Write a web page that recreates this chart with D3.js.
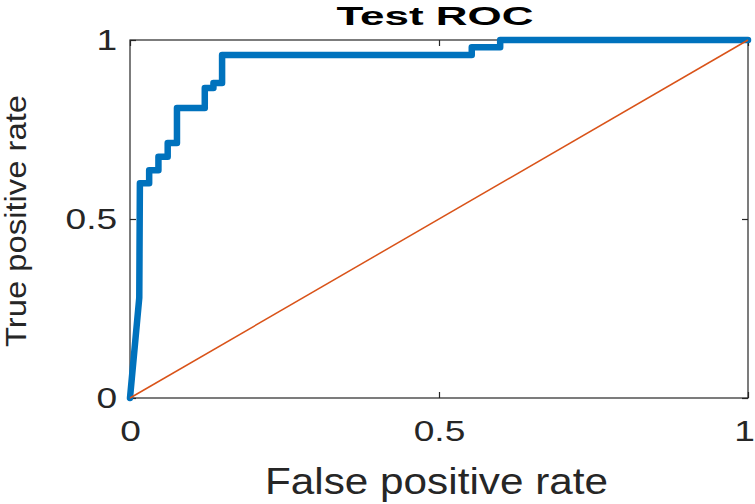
<!DOCTYPE html>
<html>
<head>
<meta charset="utf-8">
<script src="https://cdn.jsdelivr.net/npm/d3@7"></script>
<style>
  body { margin: 0; background: #fff; }
  svg { display: block; }
  text { font-family: "Liberation Sans", Arial, Helvetica, sans-serif; fill: #262626; }
</style>
</head>
<body>
<svg id="roc" width="755" height="504"></svg>
<script>
// Test ROC curve

var fpr = [0, 0.015, 0.016, 0.031, 0.031, 0.046, 0.046, 0.061, 0.061, 0.076, 0.076,
  0.121, 0.121, 0.135, 0.135, 0.149, 0.149, 0.553, 0.553, 0.599, 0.599, 1];
var tpr = [0, 0.28, 0.6, 0.6, 0.636, 0.636, 0.674, 0.674, 0.712, 0.712, 0.81,
  0.81, 0.866, 0.866, 0.88, 0.88, 0.958, 0.958, 0.98, 0.98, 1, 1];
var chance = [0, 1];
var tickValues = [0, 0.5, 1];
var tickLabels = ["0", "0.5", "1"];

var svg = d3.select("#roc");
var margin = { top: 40, right: 7, bottom: 106, left: 130 };
var width = 755 - margin.left - margin.right;
var height = 504 - margin.top - margin.bottom;

var x = d3.scaleLinear().domain([0, 1]).range([0, width]);
var y = d3.scaleLinear().domain([0, 1]).range([height, 0]);

var g = svg
  .append("g")
  .attr("transform", "translate(" + margin.left + "," + margin.top + ")");

// box
g.append("rect")
  .attr("width", width)
  .attr("height", height)
  .attr("fill", "none")
  .attr("stroke", "#262626")
  .attr("stroke-width", 1.2);

var fmt = function (d, i) {
  return tickLabels[i];
};

function styleAxis(sel) {
  sel.attr("color", "#262626");
  sel.select(".domain").remove();
  sel.selectAll(".tick line").attr("stroke-width", 1.2);
  sel.selectAll(".tick text")
    .attr("font-size", 29)
    .attr("transform", "scale(1.28,1)");
}

// bottom + left axes with labels
var xAxis = g.append("g")
  .attr("transform", "translate(0," + height + ")")
  .call(d3.axisBottom(x).tickValues(tickValues).tickFormat(fmt).tickSize(-6).tickPadding(22))
  .call(styleAxis);

// last label sits on the window edge, pull it in a little
xAxis.selectAll(".tick text")
  .filter(function (d) { return d === 1; })
  .attr("x", -3);

g.append("g")
  .call(d3.axisLeft(y).tickValues(tickValues).tickFormat(fmt).tickSize(-6).tickPadding(10))
  .call(styleAxis);

// top + right ticks only
g.append("g")
  .call(d3.axisTop(x).tickValues(tickValues).tickFormat("").tickSize(-6))
  .call(styleAxis);

g.append("g")
  .attr("transform", "translate(" + width + ",0)")
  .call(d3.axisRight(y).tickValues(tickValues).tickFormat("").tickSize(-6))
  .call(styleAxis);

// ROC curve
var line = d3
  .line()
  .x(function (d) {
    return x(d[0]);
  })
  .y(function (d) {
    return y(d[1]);
  });

g.append("path")
  .datum(d3.zip(fpr, tpr))
  .attr("d", line)
  .attr("fill", "none")
  .attr("stroke", "#0072bd")
  .attr("stroke-width", 6.5)
  .attr("stroke-linejoin", "round")
  .attr("stroke-linecap", "round");

// chance line
g.append("path")
  .datum(d3.zip(chance, chance))
  .attr("d", line)
  .attr("fill", "none")
  .attr("stroke", "#d95319")
  .attr("stroke-width", 1.5);

// title
svg.append("text")
  .attr("x", 435)
  .attr("y", 25)
  .attr("text-anchor", "middle")
  .attr("font-size", 26)
  .attr("font-weight", "bold")
  .attr("textLength", 197)
  .attr("lengthAdjust", "spacingAndGlyphs")
  .style("fill", "#000")
  .text("Test ROC");

// axis labels
svg.append("text")
  .attr("x", 436.5)
  .attr("y", 494)
  .attr("text-anchor", "middle")
  .attr("font-size", 36)
  .attr("textLength", 343)
  .attr("lengthAdjust", "spacingAndGlyphs")
  .text("False positive rate");

svg.append("text")
  .attr("transform", "translate(26,221) rotate(-90)")
  .attr("text-anchor", "middle")
  .attr("font-size", 29)
  .attr("textLength", 252)
  .attr("lengthAdjust", "spacingAndGlyphs")
  .text("True positive rate");
</script>
</body>
</html>
